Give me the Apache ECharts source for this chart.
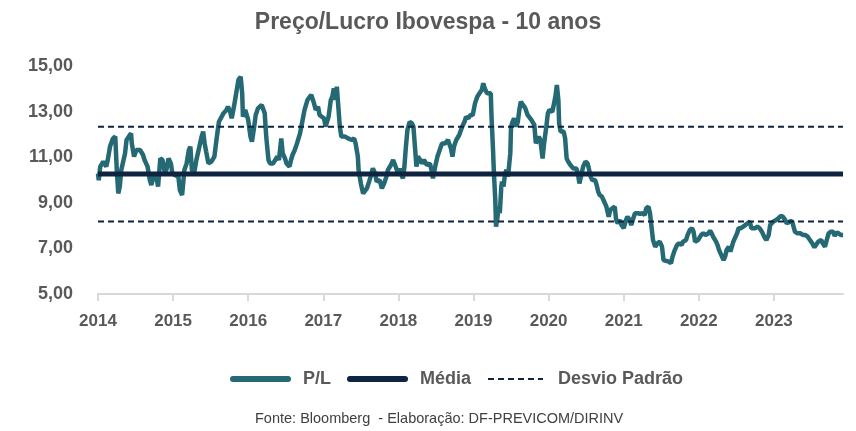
<!DOCTYPE html>
<html>
<head>
<meta charset="utf-8">
<script src="https://cdn.jsdelivr.net/npm/echarts@6/dist/echarts.min.js"></script>
<style>
html,body{margin:0;padding:0;background:#fff;}
#main{width:856px;height:431px;}
</style>
</head>
<body>
<div id="main"></div>
<script>
// P/L Ibovespa, semanal - ano decimal
var anos = [
2014.00,2014.01,2014.03,2014.07,2014.11,2014.13,2014.16,2014.20,2014.23,2014.25,2014.27,2014.29,2014.31,2014.36,2014.38,2014.44,2014.45,2014.48,2014.51,2014.56,
2014.60,2014.62,2014.66,2014.69,2014.71,2014.75,2014.78,2014.80,2014.83,2014.86,2014.89,2014.91,2014.94,2014.97,2014.99,2015.02,2015.07,2015.09,2015.12,2015.15,
2015.18,2015.21,2015.23,2015.25,2015.28,2015.31,2015.34,2015.38,2015.40,2015.42,2015.44,2015.47,2015.51,2015.55,2015.58,2015.61,2015.67,2015.71,2015.73,2015.76,
2015.78,2015.81,2015.84,2015.87,2015.90,2015.92,2015.93,2015.96,2015.98,2016.00,2016.03,2016.05,2016.08,2016.10,2016.13,2016.18,2016.20,2016.22,2016.24,2016.27,
2016.29,2016.33,2016.35,2016.39,2016.41,2016.44,2016.46,2016.49,2016.51,2016.55,2016.57,2016.59,2016.62,2016.65,2016.69,2016.72,2016.75,2016.79,2016.81,2016.84,
2016.87,2016.90,2016.93,2016.95,2016.98,2017.01,2017.03,2017.07,2017.10,2017.12,2017.14,2017.16,2017.18,2017.20,2017.22,2017.24,2017.29,2017.33,2017.38,2017.41,
2017.43,2017.46,2017.47,2017.50,2017.53,2017.55,2017.58,2017.61,2017.63,2017.66,2017.69,2017.71,2017.73,2017.75,2017.78,2017.79,2017.81,2017.84,2017.86,2017.90,
2017.93,2017.95,2017.98,2018.00,2018.02,2018.04,2018.06,2018.08,2018.10,2018.12,2018.15,2018.18,2018.20,2018.22,2018.24,2018.26,2018.29,2018.31,2018.34,2018.38,
2018.40,2018.42,2018.44,2018.46,2018.49,2018.52,2018.55,2018.58,2018.60,2018.62,2018.64,2018.66,2018.70,2018.72,2018.74,2018.77,2018.81,2018.83,2018.85,2018.88,
2018.90,2018.93,2018.96,2018.99,2019.02,2019.05,2019.08,2019.11,2019.13,2019.15,2019.18,2019.20,2019.23,2019.24,2019.26,2019.27,2019.29,2019.30,2019.32,2019.34,
2019.35,2019.37,2019.38,2019.40,2019.42,2019.44,2019.46,2019.49,2019.50,2019.52,2019.54,2019.57,2019.59,2019.61,2019.63,2019.66,2019.69,2019.72,2019.74,2019.77,
2019.81,2019.83,2019.85,2019.87,2019.89,2019.92,2019.94,2019.97,2019.99,2020.01,2020.03,2020.05,2020.09,2020.11,2020.13,2020.14,2020.16,2020.20,2020.22,2020.24,
2020.26,2020.29,2020.33,2020.37,2020.39,2020.41,2020.44,2020.46,2020.49,2020.52,2020.54,2020.56,2020.58,2020.62,2020.64,2020.66,2020.68,2020.71,2020.73,2020.75,
2020.77,2020.80,2020.82,2020.85,2020.88,2020.90,2020.92,2020.95,2020.97,2021.00,2021.03,2021.05,2021.08,2021.10,2021.12,2021.15,2021.19,2021.22,2021.25,2021.28,
2021.30,2021.33,2021.35,2021.37,2021.39,2021.42,2021.45,2021.48,2021.51,2021.53,2021.55,2021.60,2021.63,2021.65,2021.68,2021.71,2021.74,2021.77,2021.79,2021.83,
2021.85,2021.88,2021.91,2021.93,2021.95,2021.97,2021.99,2022.03,2022.06,2022.09,2022.13,2022.15,2022.17,2022.19,2022.23,2022.25,2022.27,2022.33,2022.35,2022.37,
2022.40,2022.42,2022.44,2022.46,2022.48,2022.51,2022.53,2022.56,2022.59,2022.62,2022.65,2022.68,2022.70,2022.72,2022.75,2022.78,2022.81,2022.84,2022.87,2022.90,
2022.93,2022.95,2022.97,2022.99,2023.03,2023.06,2023.09,2023.12,2023.15,2023.17,2023.21,2023.24,2023.26,2023.28,2023.31,2023.35,2023.39,2023.42,2023.45,2023.47,
2023.51,2023.54,2023.56,2023.59,2023.63,2023.65,2023.68,2023.71,2023.73,2023.76,2023.79,2023.81,2023.83,2023.86,2023.89,2023.92
];
var pl = [
10.30,10.00,10.60,10.82,10.60,10.89,11.48,11.84,11.92,10.45,9.42,9.72,10.45,11.18,11.77,12.06,11.62,11.04,11.33,11.33,
11.11,10.89,10.60,10.01,9.79,10.30,10.08,9.72,10.96,10.89,10.30,10.45,10.96,10.74,10.30,10.23,10.16,9.57,9.35,10.45,
10.74,11.33,11.48,10.45,10.30,10.89,11.33,11.92,12.14,11.62,11.26,10.74,10.82,11.04,11.84,12.57,12.94,13.09,13.23,13.01,
12.72,13.23,13.82,14.41,14.55,13.82,12.79,13.09,13.16,12.65,11.92,11.70,12.36,12.87,13.16,13.31,13.38,12.94,11.92,10.89,
10.74,10.74,10.67,11.04,10.89,11.84,11.18,10.96,10.74,10.60,10.89,11.11,11.33,11.62,12.06,12.57,13.09,13.53,13.45,13.75,
13.45,13.09,13.23,12.87,12.79,12.72,12.36,12.79,13.53,13.67,14.04,13.53,14.11,13.23,12.36,11.92,11.92,11.84,11.77,11.84,
11.62,11.04,10.45,9.86,9.42,9.35,9.64,9.94,10.16,10.52,10.30,9.94,9.86,10.01,9.64,9.57,9.86,10.16,10.45,10.67,
10.89,10.96,10.45,10.23,10.52,10.23,10.08,10.60,11.48,12.21,12.57,12.50,12.36,11.48,10.60,11.04,10.89,10.74,10.89,10.67,
10.60,10.74,10.45,10.08,10.60,11.04,11.33,11.62,11.70,11.62,11.55,11.77,11.40,11.04,11.48,11.77,11.99,12.06,12.36,12.57,
12.79,12.72,12.87,12.87,13.38,13.67,13.82,13.97,14.26,14.04,13.82,13.89,13.82,12.79,11.33,10.45,9.13,7.96,8.40,8.84,
8.55,9.72,9.94,9.72,10.30,10.45,10.16,11.18,12.36,12.57,12.72,12.36,12.57,13.09,13.45,13.31,13.16,12.87,12.79,12.65,
12.43,11.62,11.55,11.92,11.77,10.96,11.62,12.36,12.94,13.09,13.09,13.01,13.67,14.19,13.53,12.50,12.14,12.14,11.84,10.96,
10.82,10.67,10.52,10.52,10.30,9.86,10.30,10.60,10.82,10.74,10.45,10.16,10.01,10.01,9.79,9.50,9.35,9.28,9.13,9.21,
8.84,8.40,8.69,8.77,8.84,8.25,8.11,8.25,8.03,7.89,8.25,8.40,8.25,8.03,8.25,8.55,8.55,8.52,8.55,8.47,
8.77,8.84,8.55,7.96,7.37,7.08,7.23,7.30,7.08,6.49,6.42,6.42,6.35,6.64,6.93,7.15,7.23,7.15,7.30,7.37,
7.59,7.81,7.89,7.74,7.30,7.23,7.37,7.59,7.67,7.59,7.67,7.78,7.67,7.52,7.30,7.15,6.93,6.49,6.64,6.93,
7.08,6.86,7.08,7.30,7.37,7.67,7.89,7.89,7.96,8.03,8.11,8.18,7.89,7.96,7.89,7.96,7.89,7.74,7.52,7.37,
7.59,8.03,8.11,8.18,8.25,8.33,8.43,8.40,8.25,8.11,8.18,8.22,8.18,7.74,7.67,7.67,7.59,7.59,7.52,7.45,
7.23,7.05,7.15,7.30,7.37,7.23,7.08,7.45,7.67,7.74,7.74,7.55,7.70,7.67,7.59,7.59
];
var media = 10.27;
var desvioSup = 12.35;
var desvioInf = 8.19;
var inicio = 2014, fim = 2023.92;
var anosEixo = [2014, 2015, 2016, 2017, 2018, 2019, 2020, 2021, 2022, 2023];

var serieDados = [];
for (var i = 0; i < anos.length; i++) {
	serieDados.push([anos[i], pl[i]]);
}
function horizontal(v) { return [[inicio, v], [fim, v]]; }

var COR_PL = '#256975';
var COR_NAVY = '#0e2440';
var CINZA = '#595959';
var FONTE = 'Liberation Sans';

var chart = echarts.init(document.getElementById('main'));
var option = {
	animation: false,
	backgroundColor: '#fff',
	title: {
		text: 'Preço/Lucro Ibovespa - 10 anos',
		left: 'center',
		top: 6,
		textStyle: { color: CINZA, fontSize: 23, fontWeight: 'bold', fontFamily: FONTE }
	},
	grid: { left: 98, right: 13, top: 66.5, bottom: 137 },
	legend: {
		bottom: 38,
		left: 225,
		itemWidth: 55,
		itemHeight: 8,
		itemGap: 16,
		itemStyle: { opacity: 0 },
		textStyle: { color: CINZA, fontSize: 18, fontWeight: 'bold', fontFamily: FONTE, padding: [0, 0, 0, 10] },
		data: [
			{ name: 'P/L', lineStyle: { width: 6, cap: 'round' } },
			{ name: 'Média', lineStyle: { width: 6, cap: 'round' } },
			{ name: 'Desvio Padrão', lineStyle: { width: 2 } }
		]
	},
	graphic: [{
		type: 'text',
		left: 255,
		top: 411,
		style: { text: 'Fonte: Bloomberg  - Elaboração: DF-PREVICOM/DIRINV', fill: '#404040', font: '14.5px ' + FONTE }
	}],
	xAxis: {
		type: 'value',
		min: inicio,
		max: fim,
		splitLine: { show: false },
		axisLine: { lineStyle: { color: '#d9d9d9', width: 2 } },
		axisTick: { show: true, length: 7, customValues: anosEixo, lineStyle: { color: '#d9d9d9', width: 2 } },
		axisLabel: {
			customValues: anosEixo, color: CINZA, fontSize: 17, fontWeight: 'bold', fontFamily: FONTE, margin: 19,
			formatter: function (v) { return String(v); }
		}
	},
	yAxis: {
		type: 'value',
		min: 5,
		max: 15,
		interval: 2,
		splitLine: { show: false },
		axisLine: { show: false },
		axisTick: { show: false },
		axisLabel: {
			color: CINZA, fontSize: 18, fontWeight: 'bold', fontFamily: FONTE, margin: 25,
			formatter: function (v) { return v.toFixed(2).replace('.', ','); }
		}
	},
	series: [
		{ name: 'P/L', type: 'line', data: serieDados, showSymbol: false, symbol: 'none', smooth: false,
		  lineStyle: { color: COR_PL, width: 4.5 }, itemStyle: { color: COR_PL }, z: 2 },
		{ name: 'Média', type: 'line', data: horizontal(media), symbol: 'none',
		  lineStyle: { color: COR_NAVY, width: 5 }, itemStyle: { color: COR_NAVY }, z: 3 },
		{ name: 'Desvio Padrão', type: 'line', data: horizontal(desvioSup), symbol: 'none',
		  lineStyle: { color: COR_NAVY, width: 2, type: [6, 4] }, itemStyle: { color: COR_NAVY }, z: 3 },
		{ name: 'Desvio Padrão', type: 'line', data: horizontal(desvioInf), symbol: 'none',
		  lineStyle: { color: COR_NAVY, width: 2, type: [6, 4] }, itemStyle: { color: COR_NAVY }, z: 3 }
	]
};
chart.setOption(option);
</script>
</body>
</html>
